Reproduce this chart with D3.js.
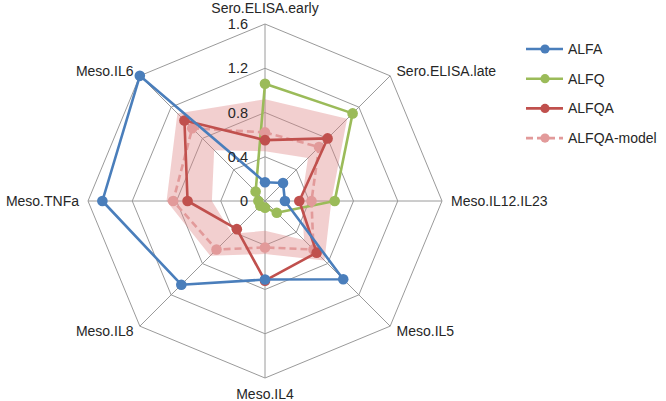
<!DOCTYPE html>
<html>
<head>
<meta charset="utf-8">
<script src="https://cdn.jsdelivr.net/npm/d3@7"></script>
<style>
  body { margin: 0; background: #fff; }
  text { font-family: "Liberation Sans", Arial, sans-serif; font-size: 14px; fill: #262626; }
</style>
</head>
<body>
<svg id="svg"></svg>
<script>
//data
let axes = ['Sero.ELISA.early', 'Sero.ELISA.late', 'Meso.IL12.IL23', 'Meso.IL5',
            'Meso.IL4', 'Meso.IL8', 'Meso.TNFa', 'Meso.IL6']
let tickVals = [0, 0.4, 0.8, 1.2, 1.6]
let alfa = [0.17, 0.23, 0.18, 1.0, 0.71, 1.07, 1.47, 1.6]
let alfq = [1.06, 1.12, 0.63, 0.15, 0.06, 0.06, 0.06, 0.12]
let alfqa = [0.55, 0.8, 0.31, 0.66, 0.72, 0.36, 0.7, 1.03]
let model = [0.62, 0.69, 0.42, 0.62, 0.42, 0.62, 0.83, 0.93]
//shaded range around the model
let bandLow = [0.45, 0.55, 0.33, 0.5, 0.27, 0.42, 0.48, 0.65]
let bandHigh = [0.92, 1.05, 0.6, 0.76, 0.48, 0.7, 0.89, 1.12]

let seriesList = [
    { name: 'ALFA', values: alfa, color: '#4a7ebb', dash: null },
    { name: 'ALFQ', values: alfq, color: '#9bbb59', dash: null },
    { name: 'ALFQA', values: alfqa, color: '#c0504d', dash: null },
    { name: 'ALFQA-model', values: model, color: '#e29a9a', dash: '7,4' }
]
//draw order (last on top)
let drawOrder = [1, 3, 2, 0]

let width = 666, height = 401
let cx = 265, cy = 201
let R = 177

let svg = d3.select('#svg').attr('width', width).attr('height', height)

let r = d3.scaleLinear().domain([0, 1.6]).range([0, R])
let angle = i => i * 2 * Math.PI / axes.length
let px = (i, v) => cx + r(v) * Math.sin(angle(i))
let py = (i, v) => cy - r(v) * Math.cos(angle(i))

let radial = d3.lineRadial()
    .angle((d, i) => angle(i))
    .radius(d => r(d))
    .curve(d3.curveLinearClosed)

let g = svg.append('g').attr('transform', `translate(${cx},${cy})`)

//grid rings
g.append('g')
    .selectAll('path')
    .data(tickVals.slice(1))
    .join('path')
    .attr('d', t => radial(axes.map(() => t)))
    .attr('fill', 'none')
    .attr('stroke', '#9a9a9a')
    .attr('stroke-width', 1)

//spokes
g.append('g')
    .selectAll('line')
    .data(axes)
    .join('line')
    .attr('x1', 0).attr('y1', 0)
    .attr('x2', (d, i) => px(i, 1.6) - cx)
    .attr('y2', (d, i) => py(i, 1.6) - cy)
    .attr('stroke', '#9a9a9a')
    .attr('stroke-width', 1)

//band (outer polygon minus inner polygon)
g.append('path')
    .attr('d', radial(bandHigh) + radial(bandLow))
    .attr('fill-rule', 'evenodd')
    .attr('fill', '#dc8080')
    .attr('opacity', 0.38)

//series
drawOrder.forEach(k => {
    let s = seriesList[k]
    let sg = g.append('g')
    sg.append('path')
        .attr('d', radial(s.values))
        .attr('fill', 'none')
        .attr('stroke', s.color)
        .attr('stroke-width', 2.6)
        .attr('stroke-dasharray', s.dash)
        .attr('stroke-linejoin', 'round')
    sg.selectAll('circle')
        .data(s.values)
        .join('circle')
        .attr('cx', (d, i) => px(i, d) - cx)
        .attr('cy', (d, i) => py(i, d) - cy)
        .attr('r', 5.3)
        .attr('fill', s.color)
})

//tick labels along the top spoke
svg.append('g')
    .selectAll('text')
    .data(tickVals)
    .join('text')
    .attr('x', cx - 17)
    .attr('y', d => cy - r(d))
    .attr('dy', '0.36em')
    .attr('text-anchor', 'end')
    .style('font-size', '14.5px')
    .text(d => d3.format('')(d))

//axis labels
svg.append('g')
    .selectAll('text')
    .data(axes)
    .join('text')
    .attr('x', (d, i) => px(i, 1.6) + Math.sin(angle(i)) * 9)
    .attr('y', (d, i) => py(i, 1.6) - Math.cos(angle(i)) * (i % 4 === 0 ? 16 : 7))
    .attr('dy', '0.35em')
    .attr('text-anchor', (d, i) => {
        let s = Math.sin(angle(i))
        return Math.abs(s) < 0.01 ? 'middle' : (s > 0 ? 'start' : 'end')
    })
    .text(d => d)

//legend
let legend = svg.append('g')
    .selectAll('g')
    .data(seriesList)
    .join('g')
    .attr('transform', (d, i) => `translate(526,${49 + i * 29.7})`)
legend.append('line')
    .attr('x1', 0).attr('x2', 37)
    .attr('stroke', d => d.color)
    .attr('stroke-width', 2.6)
    .attr('stroke-dasharray', d => d.dash)
legend.append('circle')
    .attr('cx', 19).attr('r', 4.6)
    .attr('fill', d => d.color)
legend.append('text')
    .attr('x', 42)
    .attr('dy', '0.35em')
    .text(d => d.name)
</script>
</body>
</html>
